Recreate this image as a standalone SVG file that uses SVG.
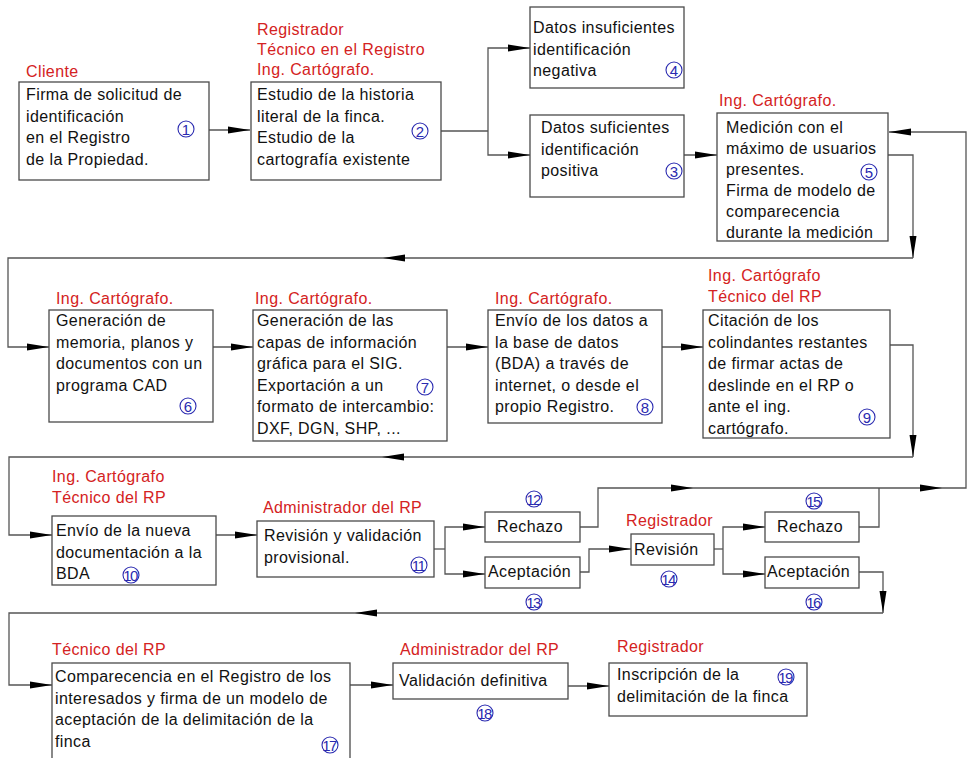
<svg xmlns="http://www.w3.org/2000/svg" width="968" height="758" viewBox="0 0 968 758">
<style>
  .bx{fill:#fff;stroke:#4a4a4a;stroke-width:1.3}
  .t{font-family:"Liberation Sans",Arial,sans-serif;font-size:16px;letter-spacing:0.4px;fill:#111}
  .r{font-family:"Liberation Sans",Arial,sans-serif;font-size:16px;letter-spacing:0.4px;fill:#d42222}
  .nc{fill:none;stroke:#2a2ab0;stroke-width:1.1}
  .nt{font-family:"Liberation Sans",Arial,sans-serif;font-size:15px;fill:#2a2ab0;text-anchor:middle}
  .nt2{letter-spacing:-1.5px}
  .ln{fill:none;stroke:#555;stroke-width:1.3}
  .ar{marker-end:url(#ah)}
</style>
<defs>
  <marker id="ah" markerUnits="userSpaceOnUse" markerWidth="22" markerHeight="8" refX="22" refY="4" orient="auto">
    <path d="M0,0.5 L22,4 L0,7.5 Z" fill="#000"/>
  </marker>
</defs>
<rect width="968" height="758" fill="#fff"/>

<g id="connectors">
  <path class="ln ar" d="M209,130 H250"/>
  <path class="ln" d="M441,131 H488"/>
  <path class="ln ar" d="M488,131 V48 H530"/>
  <path class="ln ar" d="M488,131 V155 H530"/>
  <path class="ln ar" d="M684,155 H717"/>
  <path class="ln ar" d="M888,155 H913 V258"/>
  <path class="ln ar" d="M913,258 H383"/>
  <path class="ln ar" d="M383,258 H8 V347 H49"/>
  <path class="ln ar" d="M213,347 H253"/>
  <path class="ln ar" d="M447,347 H488"/>
  <path class="ln ar" d="M662,347 H703"/>
  <path class="ln ar" d="M890,345 H913 V457"/>
  <path class="ln ar" d="M913,457 H382"/>
  <path class="ln ar" d="M382,457 H9 V535 H52"/>
  <path class="ln ar" d="M216,535 H257"/>
  <path class="ln" d="M434,549 H445"/>
  <path class="ln ar" d="M445,549 V527 H485"/>
  <path class="ln ar" d="M445,549 V574 H485"/>
  <path class="ln ar" d="M580,527 H598 V488 H693"/>
  <path class="ln ar" d="M693,488 H942"/>
  <path class="ln ar" d="M942,488 H966 V132 H889"/>
  <path class="ln" d="M859,527 H879 V488"/>
  <path class="ln ar" d="M580,572 H589 V549 H631"/>
  <path class="ln" d="M714,549 H723"/>
  <path class="ln ar" d="M723,549 V527 H765"/>
  <path class="ln ar" d="M723,549 V574 H765"/>
  <path class="ln ar" d="M859,572 H883 V613"/>
  <path class="ln ar" d="M883,613 H355"/>
  <path class="ln ar" d="M355,613 H9 V685 H52"/>
  <path class="ln ar" d="M350,685 H393"/>
  <path class="ln ar" d="M568,686 H609"/>
</g>

<g id="n1">
  <text class="r" x="26" y="77">Cliente</text>
  <rect class="bx" x="19" y="82" width="190" height="98"/>
  <text class="t" x="26" y="100"><tspan x="26">Firma de solicitud de</tspan><tspan x="26" dy="21.6">identificación</tspan><tspan x="26" dy="21.6">en el Registro</tspan><tspan x="26" dy="21.6">de la Propiedad.</tspan></text>
  <circle class="nc" cx="186" cy="129" r="8"/><text class="nt" x="186" y="134.5">1</text>
</g>

<g id="n2">
  <text class="r" x="257" y="35"><tspan x="257">Registrador</tspan><tspan x="257" dy="20">Técnico en el Registro</tspan><tspan x="257" dy="20">Ing. Cartógrafo.</tspan></text>
  <rect class="bx" x="251" y="82" width="190" height="98"/>
  <text class="t" x="257" y="100"><tspan x="257">Estudio de la historia</tspan><tspan x="257" dy="21.6">literal de la finca.</tspan><tspan x="257" dy="21.6">Estudio de la</tspan><tspan x="257" dy="21.6">cartografía existente</tspan></text>
  <circle class="nc" cx="420" cy="131" r="8"/><text class="nt" x="420" y="136.5">2</text>
</g>

<g id="n4">
  <rect class="bx" x="530" y="7" width="154" height="81"/>
  <text class="t" x="533" y="33"><tspan x="533">Datos insuficientes</tspan><tspan x="533" dy="21.5">identificación</tspan><tspan x="533" dy="21.5">negativa</tspan></text>
  <circle class="nc" cx="674" cy="70" r="8"/><text class="nt" x="674" y="75.5">4</text>
</g>

<g id="n3">
  <rect class="bx" x="530" y="115" width="154" height="82"/>
  <text class="t" x="541" y="133"><tspan x="541">Datos suficientes</tspan><tspan x="541" dy="21.5">identificación</tspan><tspan x="541" dy="21.5">positiva</tspan></text>
  <circle class="nc" cx="674" cy="171" r="8"/><text class="nt" x="674" y="176.5">3</text>
</g>

<g id="n5">
  <text class="r" x="719" y="106">Ing. Cartógrafo.</text>
  <rect class="bx" x="717" y="113" width="171" height="128"/>
  <text class="t" x="726" y="133"><tspan x="726">Medición con el</tspan><tspan x="726" dy="21">máximo de usuarios</tspan><tspan x="726" dy="21">presentes.</tspan><tspan x="726" dy="21">Firma de modelo de</tspan><tspan x="726" dy="21">comparecencia</tspan><tspan x="726" dy="21">durante la medición</tspan></text>
  <circle class="nc" cx="869" cy="172" r="8"/><text class="nt" x="869" y="177.5">5</text>
</g>

<g id="n6">
  <text class="r" x="56" y="304">Ing. Cartógrafo.</text>
  <rect class="bx" x="49" y="310" width="164" height="112"/>
  <text class="t" x="56" y="326"><tspan x="56">Generación de</tspan><tspan x="56" dy="21.6">memoria, planos y</tspan><tspan x="56" dy="21.6">documentos con un</tspan><tspan x="56" dy="21.6">programa CAD</tspan></text>
  <circle class="nc" cx="188" cy="406" r="8"/><text class="nt" x="188" y="411.5">6</text>
</g>

<g id="n7">
  <text class="r" x="255" y="304">Ing. Cartógrafo.</text>
  <rect class="bx" x="253" y="310" width="194" height="131"/>
  <text class="t" x="257" y="326"><tspan x="257">Generación de las</tspan><tspan x="257" dy="21.6">capas de información</tspan><tspan x="257" dy="21.6">gráfica para el SIG.</tspan><tspan x="257" dy="21.6">Exportación a un</tspan><tspan x="257" dy="21.6">formato de intercambio:</tspan><tspan x="257" dy="21.6">DXF, DGN, SHP, ...</tspan></text>
  <circle class="nc" cx="425" cy="387" r="8"/><text class="nt" x="425" y="392.5">7</text>
</g>

<g id="n8">
  <text class="r" x="495" y="304">Ing. Cartógrafo.</text>
  <rect class="bx" x="488" y="310" width="174" height="113"/>
  <text class="t" x="495" y="326"><tspan x="495">Envío de los datos a</tspan><tspan x="495" dy="21.6">la base de datos</tspan><tspan x="495" dy="21.6">(BDA) a través de</tspan><tspan x="495" dy="21.6">internet, o desde el</tspan><tspan x="495" dy="21.6">propio Registro.</tspan></text>
  <circle class="nc" cx="645" cy="407" r="8"/><text class="nt" x="645" y="412.5">8</text>
</g>

<g id="n9">
  <text class="r" x="708" y="281"><tspan x="708">Ing. Cartógrafo</tspan><tspan x="708" dy="21">Técnico del RP</tspan></text>
  <rect class="bx" x="703" y="310" width="187" height="128"/>
  <text class="t" x="708" y="326"><tspan x="708">Citación de los</tspan><tspan x="708" dy="21.6">colindantes restantes</tspan><tspan x="708" dy="21.6">de firmar actas de</tspan><tspan x="708" dy="21.6">deslinde en el RP o</tspan><tspan x="708" dy="21.6">ante el ing.</tspan><tspan x="708" dy="21.6">cartógrafo.</tspan></text>
  <circle class="nc" cx="867" cy="417" r="8"/><text class="nt" x="867" y="422.5">9</text>
</g>

<g id="n10">
  <text class="r" x="52" y="482"><tspan x="52">Ing. Cartógrafo</tspan><tspan x="52" dy="21">Técnico del RP</tspan></text>
  <rect class="bx" x="52" y="516" width="164" height="69"/>
  <text class="t" x="56" y="536"><tspan x="56">Envío de la nueva</tspan><tspan x="56" dy="21.5">documentación a la</tspan><tspan x="56" dy="21.5">BDA</tspan></text>
  <circle class="nc" cx="131" cy="575" r="8"/><text class="nt nt2" x="130" y="580.5">10</text>
</g>

<g id="n11">
  <text class="r" x="263" y="513">Administrador del RP</text>
  <rect class="bx" x="257" y="521" width="177" height="56"/>
  <text class="t" x="264" y="541"><tspan x="264">Revisión y validación</tspan><tspan x="264" dy="22">provisional.</tspan></text>
  <circle class="nc" cx="419" cy="565" r="8"/><text class="nt nt2" x="418" y="570.5">11</text>
</g>

<g id="n12">
  <rect class="bx" x="485" y="512" width="95" height="30"/>
  <text class="t" x="497" y="532">Rechazo</text>
  <circle class="nc" cx="534" cy="499" r="8"/><text class="nt nt2" x="533" y="504.5">12</text>
</g>

<g id="n13">
  <rect class="bx" x="485" y="557" width="95" height="31"/>
  <text class="t" x="488" y="577">Aceptación</text>
  <circle class="nc" cx="534" cy="602" r="8"/><text class="nt nt2" x="533" y="607.5">13</text>
</g>

<g id="n14">
  <text class="r" x="626" y="526">Registrador</text>
  <rect class="bx" x="631" y="534" width="83" height="31"/>
  <text class="t" x="634" y="555">Revisión</text>
  <circle class="nc" cx="669" cy="579" r="8"/><text class="nt nt2" x="668" y="584.5">14</text>
</g>

<g id="n15">
  <rect class="bx" x="765" y="512" width="94" height="30"/>
  <text class="t" x="777" y="532">Rechazo</text>
  <circle class="nc" cx="814" cy="501" r="8"/><text class="nt nt2" x="813" y="506.5">15</text>
</g>

<g id="n16">
  <rect class="bx" x="765" y="557" width="94" height="31"/>
  <text class="t" x="767" y="577">Aceptación</text>
  <circle class="nc" cx="814" cy="602" r="8"/><text class="nt nt2" x="813" y="607.5">16</text>
</g>

<g id="n17">
  <text class="r" x="52" y="655">Técnico del RP</text>
  <rect class="bx" x="52" y="663" width="298" height="102"/>
  <text class="t" x="55" y="682"><tspan x="55">Comparecencia en el Registro de los</tspan><tspan x="55" dy="21.6">interesados y firma de un modelo de</tspan><tspan x="55" dy="21.6">aceptación de la delimitación de la</tspan><tspan x="55" dy="21.6">finca</tspan></text>
  <circle class="nc" cx="330" cy="745" r="8"/><text class="nt nt2" x="329" y="750.5">17</text>
</g>

<g id="n18">
  <text class="r" x="400" y="655">Administrador del RP</text>
  <rect class="bx" x="393" y="663" width="175" height="36"/>
  <text class="t" x="399" y="686">Validación definitiva</text>
  <circle class="nc" cx="485" cy="713" r="8"/><text class="nt nt2" x="484" y="718.5">18</text>
</g>

<g id="n19">
  <text class="r" x="617" y="652">Registrador</text>
  <rect class="bx" x="609" y="663" width="198" height="53"/>
  <text class="t" x="617" y="680"><tspan x="617">Inscripción de la</tspan><tspan x="617" dy="22">delimitación de la finca</tspan></text>
  <circle class="nc" cx="786" cy="677" r="8"/><text class="nt nt2" x="785" y="682.5">19</text>
</g>
</svg>
